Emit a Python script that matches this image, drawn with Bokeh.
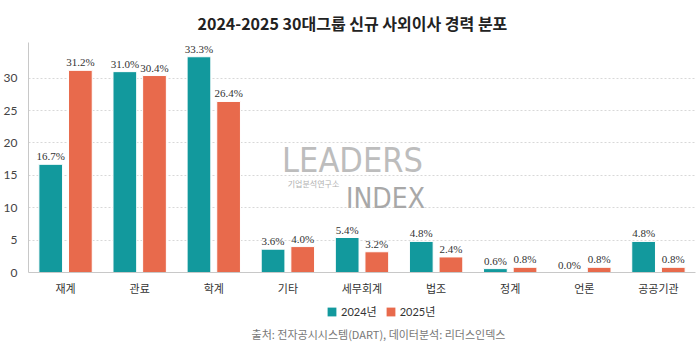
from bokeh.plotting import figure
from bokeh.layouts import column
from bokeh.models import (ColumnDataSource, FactorRange, Range1d, FixedTicker,
                          Legend, LegendItem, LabelSet, Label)
from bokeh.transform import dodge
from bokeh.embed import file_html
from bokeh.resources import INLINE

categories = ["재계", "관료", "학계", "기타", "세무회계", "법조", "정계", "언론", "공공기관"]
values_2024 = [16.7, 31.0, 33.3, 3.6, 5.4, 4.8, 0.6, 0.0, 4.8]
values_2025 = [31.2, 30.4, 26.4, 4.0, 3.2, 2.4, 0.8, 0.8, 0.8]
series_names = ["2024년", "2025년"]
y_ticks = [0, 5, 10, 15, 20, 25, 30]
title_text = "2024-2025 30대그룹 신규 사외이사 경력 분포"
source_text = "출처: 전자공시시스템(DART), 데이터분석: 리더스인덱스"

TEAL = "#12999d"
ORANGE = "#e86a4c"
KR = "'Noto Sans CJK KR', sans-serif"
NUM = "Lato"
LEG = "Lato, 'Noto Sans CJK KR', sans-serif"
NARROW = "'Liberation Sans Narrow', 'DejaVu Sans Condensed', sans-serif"

src = ColumnDataSource(dict(
    cat=categories,
    v24=values_2024,
    v25=values_2025,
    l24=[f"{v:.1f}%" for v in values_2024],
    l25=[f"{v:.1f}%" for v in values_2025],
))

# ---------------- main chart ----------------
p = figure(width=700, height=302, output_backend="svg", toolbar_location=None,
           x_range=FactorRange(*categories, range_padding=0),
           y_range=Range1d(0, 35.5),
           min_border_left=0, min_border_right=5, min_border_top=40, min_border_bottom=30)

p.title.text = title_text
p.title.align = "left"
p.title.offset = 169
p.title.text_font = KR
p.title.text_font_size = "16px"
p.title.text_font_style = "bold"
p.title.text_color = "#222222"
p.title.standoff = 16

r24 = p.vbar(x=dodge("cat", -0.2, range=p.x_range), top="v24", width=0.32, source=src,
             fill_color=TEAL, line_color="white", line_width=1)
r25 = p.vbar(x=dodge("cat", 0.2, range=p.x_range), top="v25", width=0.32, source=src,
             fill_color=ORANGE, line_color="white", line_width=1)

for field, ycol, off in (("l24", "v24", -0.2), ("l25", "v25", 0.2)):
    ls = LabelSet(x=dodge("cat", off, range=p.x_range), y=ycol, text=field, source=src,
                  text_align="center", text_baseline="bottom", y_offset=2,
                  text_font=NUM, text_font_size="11px", text_color="#333333")
    p.add_layout(ls)

# watermark (logo)
p.add_layout(Label(x=324, y=113, x_units="screen", y_units="screen", text="LEADERS",
                   text_align="center", text_baseline="alphabetic", text_font=NARROW,
                   text_font_size="34px", text_color="#bdbdbd"))
p.add_layout(Label(x=285, y=89, x_units="screen", y_units="screen", text="기업분석연구소",
                   text_align="center", text_baseline="middle", text_font=KR,
                   text_font_size="8px", text_color="#b0b0b0"))
p.add_layout(Label(x=357, y=74, x_units="screen", y_units="screen", text="INDEX",
                   text_align="center", text_baseline="alphabetic", text_font=NARROW,
                   text_font_size="28px", text_color="#a8a8a8"))

p.outline_line_color = None
p.xgrid.grid_line_color = None
p.ygrid.ticker = FixedTicker(ticks=y_ticks[1:])
p.ygrid.grid_line_color = "#d8d8d8"
p.ygrid.grid_line_dash = "2 2"

p.yaxis.ticker = FixedTicker(ticks=y_ticks)
p.yaxis.axis_line_color = "#c8c8c8"
p.yaxis.major_tick_line_color = None
p.yaxis.minor_tick_line_color = None
p.yaxis.major_label_text_font = NUM
p.yaxis.major_label_text_font_size = "12px"
p.yaxis.major_label_text_color = "#444444"
p.yaxis.major_label_standoff = 5

p.xaxis.axis_line_color = "#c8c8c8"
p.xaxis.major_tick_line_color = None
p.xaxis.major_label_text_font = KR
p.xaxis.major_label_text_font_size = "11px"
p.xaxis.major_label_text_color = "#333333"
p.xaxis.major_label_standoff = 1

# ---------------- legend + source strip ----------------
# same series drawn out of view so the legend can show their swatches
p2 = figure(width=700, height=49, output_backend="svg", toolbar_location=None,
            x_range=FactorRange(*categories, range_padding=0), y_range=Range1d(100, 149),
            min_border=0, outline_line_color=None)
p2.axis.visible = False
p2.grid.visible = False
g24 = p2.vbar(x=dodge("cat", -0.2, range=p2.x_range), top="v24", width=0.32, source=src,
              fill_color=TEAL, line_color=None)
g25 = p2.vbar(x=dodge("cat", 0.2, range=p2.x_range), top="v25", width=0.32, source=src,
              fill_color=ORANGE, line_color=None)

legend = Legend(items=[LegendItem(label=series_names[0], renderers=[g24]),
                       LegendItem(label=series_names[1], renderers=[g25])],
                orientation="horizontal", location=(298, 32),
                label_text_font=LEG, label_text_font_size="11px", label_text_color="#333333",
                glyph_width=11, glyph_height=11, spacing=8, padding=0, margin=0,
                border_line_color=None, background_fill_alpha=0, label_standoff=4,
                label_height=12, label_width=20)
p2.add_layout(legend, "center")

p2.add_layout(Label(x=350, y=18, x_units="screen", y_units="screen", text=source_text,
                    text_align="center", text_baseline="middle", text_font=KR,
                    text_font_size="11px", text_color="#777777"))

open("out.html", "w").write(file_html(column(p, p2, spacing=0), INLINE))
